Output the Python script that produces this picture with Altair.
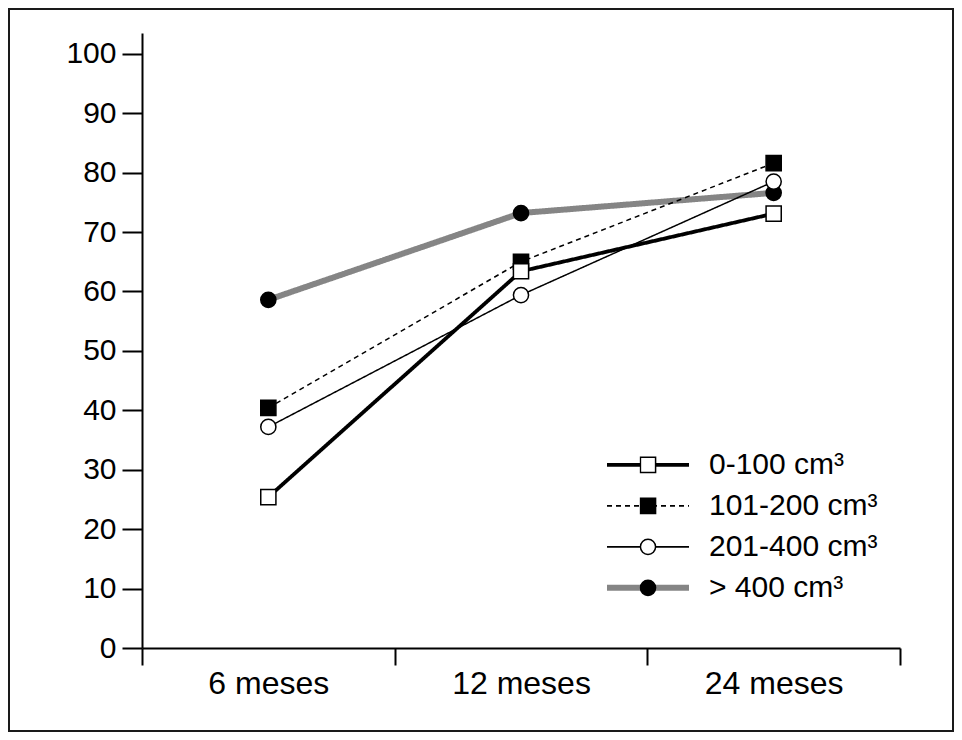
import altair as alt
import pandas as pd

periodos = ["6 meses", "12 meses", "24 meses"]
grupos = ["0-100 cm³", "101-200 cm³", "201-400 cm³", "> 400 cm³"]
v_0_100 = [25.4, 63.4, 73.1]
v_101_200 = [40.4, 65.0, 81.6]
v_201_400 = [37.2, 59.4, 78.5]
v_400 = [58.6, 73.2, 76.6]
y_ticks = list(range(0, 101, 10))

# drawing order: > 400 first, 0-100 last so its squares sit on top
series = [
    (grupos[3], v_400),
    (grupos[1], v_101_200),
    (grupos[2], v_201_400),
    (grupos[0], v_0_100),
]
rows = []
for g, vals in series:
    for p, v in zip(periodos, vals):
        rows.append({"grupo": g, "periodo": p, "valor": v})
df = pd.DataFrame(rows)

FONT = "Liberation Sans"

x = alt.X(
    "periodo:N",
    sort=periodos,
    bandPosition=0.5,
    scale=alt.Scale(type="band", paddingInner=0, paddingOuter=0),
    axis=alt.Axis(
        title=None, labelAngle=0, tickBand="extent", grid=False,
        tickSize=17, tickWidth=2, tickColor="black",
        domainColor="black", domainWidth=2,
        labelFontSize=32, labelPadding=3, labelColor="black",
    ),
)
y = alt.Y(
    "valor:Q",
    scale=alt.Scale(domain=[0, 103.5], nice=False),
    axis=alt.Axis(
        title=None, values=y_ticks, grid=False,
        tickSize=20, tickWidth=2, tickColor="black",
        domainColor="black", domainWidth=2,
        labelFontSize=30, labelPadding=6, labelColor="black",
    ),
)

ancho_linea = (
    alt.when(alt.datum.grupo == grupos[3]).then(alt.value(6))
    .when(alt.datum.grupo == grupos[0]).then(alt.value(3.8))
    .otherwise(alt.value(1.5))
)
ancho_leyenda = alt.ExprRef(
    f"datum.value == '{grupos[3]}' ? 6 : datum.value == '{grupos[0]}' ? 3.8 : 1.8"
)

lineas = alt.Chart(df).mark_line().encode(
    x=x,
    y=y,
    color=alt.Color(
        "grupo:N",
        scale=alt.Scale(domain=grupos, range=["black", "black", "black", "#858585"]),
        legend=alt.Legend(
            title=None, orient="none", legendX=465, legendY=411.5,
            symbolType="stroke", symbolSize=6724, symbolOffset=26,
            clipHeight=40.7, rowPadding=0,
            padding=0, labelFontSize=30, labelOffset=46, labelColor="black",
            labelLimit=0, symbolOpacity=1, symbolStrokeWidth=ancho_leyenda,
        ),
    ),
    strokeDash=alt.StrokeDash(
        "grupo:N",
        scale=alt.Scale(domain=grupos, range=[[1, 0], [5, 4], [1, 0], [1, 0]]),
    ),
    strokeWidth=ancho_linea,
)

marcas = [g + " " for g in grupos]

puntos = alt.Chart(df).transform_calculate(
    marca="datum.grupo + ' '"
).mark_point(filled=True, strokeWidth=1.5, opacity=1, size=230).encode(
    x=x,
    y=y,
    shape=alt.Shape(
        "marca:N",
        scale=alt.Scale(domain=marcas, range=["square", "square", "circle", "circle"]),
        legend=alt.Legend(
            title=None, orient="none", legendX=497.5, legendY=411.5,
            symbolSize=230, clipHeight=40.7, rowPadding=0, padding=0,
            symbolStrokeWidth=1.5, symbolOpacity=1,
            labelFontSize=1, labelOpacity=0,
        ),
    ),
    fill=alt.Fill(
        "marca:N",
        scale=alt.Scale(domain=marcas, range=["white", "black", "white", "black"]),
    ),
    stroke=alt.Stroke(
        "marca:N",
        scale=alt.Scale(domain=marcas, range=["black", "black", "black", "black"]),
    ),
)

marco = alt.Chart(pd.DataFrame({"marco": [0]})).mark_rect(
    fillOpacity=0, stroke="#1a1a1a", strokeWidth=2
).encode(
    x=alt.value(-133), x2=alt.value(811), y=alt.value(-24), y2=alt.value(698)
)

chart = (
    alt.layer(marco, lineas, puntos)
    .properties(
        width=758,
        height=615,
        autosize=alt.AutoSizeParams(type="none"),
        padding={"left": 134, "top": 25, "right": 54, "bottom": 84},
        background="white",
    )
    .configure_view(stroke=None)
    .configure_axis(labelFont=FONT)
    .configure_legend(labelFont=FONT)
)

chart.save("out.html", embed_options={"renderer": "svg", "actions": False})
